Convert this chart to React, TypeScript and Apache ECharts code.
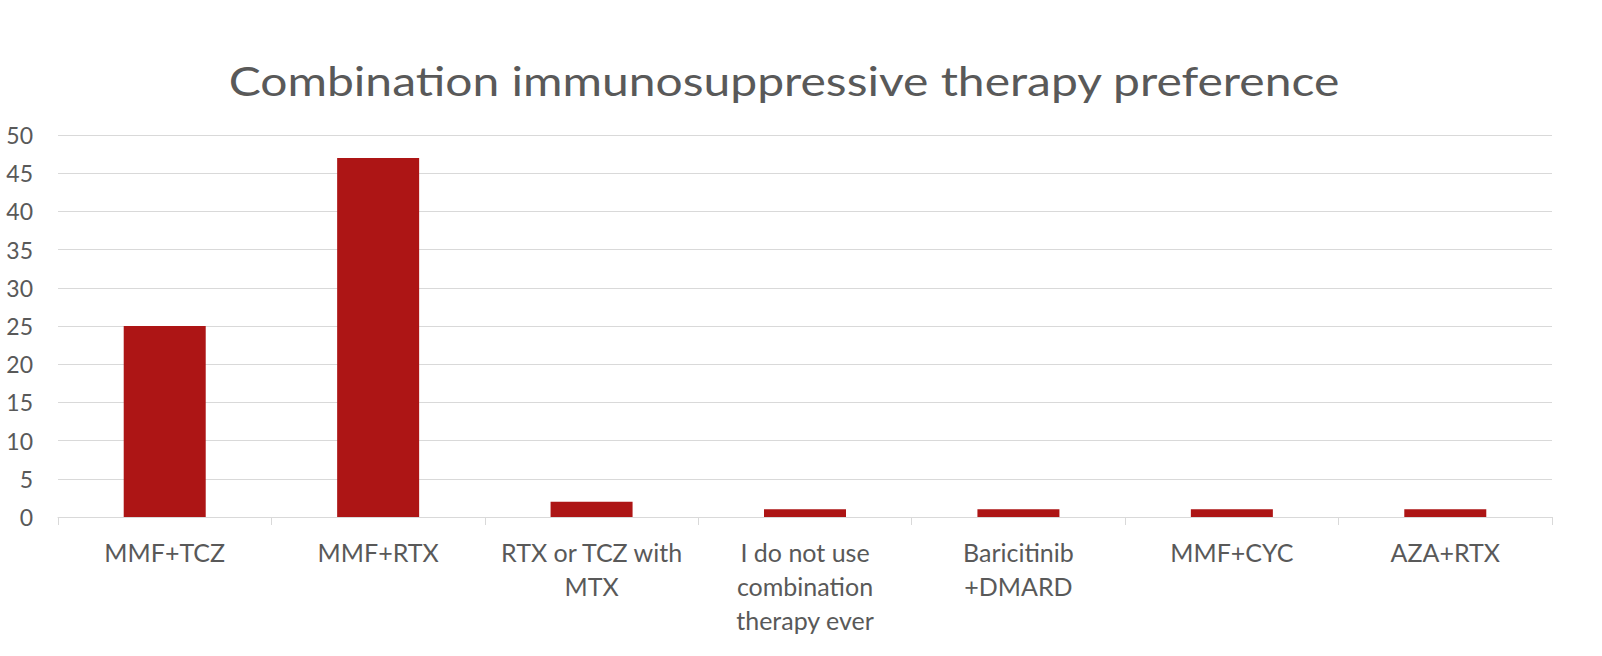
import React, { useEffect, useRef } from "react";
import * as echarts from "echarts";

const categories = [
  "MMF+TCZ",
  "MMF+RTX",
  "RTX or TCZ with\nMTX",
  "I do not use\ncombination\ntherapy ever",
  "Baricitinib\n+DMARD",
  "MMF+CYC",
  "AZA+RTX",
];
const values = [25, 47, 2, 1, 1, 1, 1];
const yMin = 0;
const yMax = 50;
const yInterval = 5;
const titleText = "Combination immunosuppressive therapy preference";

export default function App() {
  const ref = useRef<HTMLDivElement>(null);
  useEffect(() => {
    if (!ref.current) return;
    const chart = echarts.init(ref.current, null, { renderer: "svg" });
    const font = "Lato, 'Noto Sans', sans-serif";
    chart.setOption({
      animation: false,
      backgroundColor: "#ffffff",
      graphic: [
        {
          type: "text",
          x: 784,
          y: 80,
          scaleX: 1.2,
          style: {
            text: titleText,
            font: `40px ${font}`,
            fill: "#595959",
            textAlign: "center",
            textVerticalAlign: "middle",
          },
        },
      ],
      grid: { left: 58, right: 50, top: 135, bottom: 139, containLabel: false },
      xAxis: {
        type: "category",
        data: categories,
        axisLine: { show: true, lineStyle: { color: "#d9d9d9", width: 1 } },
        axisTick: { show: true, length: 8, lineStyle: { color: "#d9d9d9" } },
        axisLabel: {
          color: "#595959",
          fontSize: 25,
          fontFamily: font,
          lineHeight: 34,
          margin: 18,
          interval: 0,
        },
      },
      yAxis: {
        type: "value",
        min: yMin,
        max: yMax,
        interval: yInterval,
        axisLine: { show: false },
        axisTick: { show: false },
        splitLine: { lineStyle: { color: "#d9d9d9", width: 1 } },
        axisLabel: { color: "#595959", fontSize: 23, fontFamily: font, margin: 25 },
      },
      series: [
        {
          type: "bar",
          data: values,
          barWidth: 82,
          itemStyle: { color: "#ad1515" },
        },
      ],
    });
    return () => chart.dispose();
  }, []);
  return (
    <div
      ref={ref}
      style={{ position: "absolute", left: 0, top: 0, width: 1602, height: 656 }}
    />
  );
}
